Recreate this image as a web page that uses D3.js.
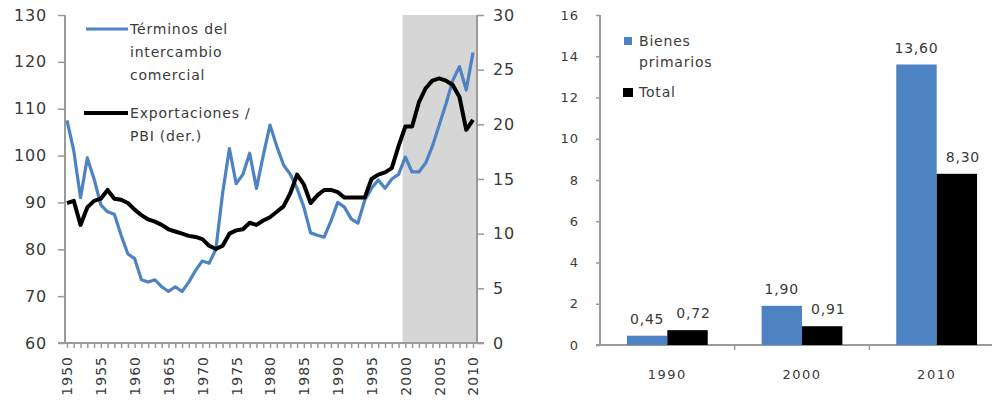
<!DOCTYPE html>
<html>
<head>
<meta charset="utf-8">
<script src="https://cdn.jsdelivr.net/npm/d3@7"></script>
<style>
  body { margin: 0; background: #fff; }
  svg text { font-family: "DejaVu Sans", sans-serif; fill: #3a3a3a; }
</style>
</head>
<body>
<svg id="chart" width="996" height="405"></svg>
<script>
// left panel: annual series 1950-2010
var years = d3.range(1950, 2011);
var terminos = [107.5, 101, 91, 99.5, 95, 89.5, 88, 87.5, 83, 79,
  78, 73.5, 73, 73.5, 72, 71, 72, 71, 73, 75.5,
  77.5, 77, 80, 92, 101.5, 94, 96, 100.5, 93, 100,
  106.5, 102, 98, 96, 93, 89, 83.5, 83, 82.6, 86,
  90, 89, 86.5, 85.6, 90.5, 93, 94.8, 93, 95, 96,
  99.7, 96.5, 96.5, 98.4, 102, 106.5, 111, 116, 119, 114,
  122];
var exportPbi = [12.8, 13, 10.8, 12.4, 13, 13.2, 14, 13.2, 13.1, 12.8,
  12.2, 11.7, 11.3, 11.1, 10.8, 10.4, 10.2, 10, 9.8, 9.7,
  9.5, 8.9, 8.6, 8.9, 10, 10.3, 10.4, 11, 10.8, 11.2,
  11.5, 12, 12.5, 13.7, 15.4, 14.5, 12.8, 13.5, 14, 14,
  13.8, 13.3, 13.3, 13.3, 13.3, 15, 15.4, 15.6, 16, 18,
  19.8, 19.8, 22, 23.3, 24, 24.2, 24, 23.6, 22.5, 19.5,
  20.4];
var leftTicks = [60, 70, 80, 90, 100, 110, 120, 130];
var rightTicks = [0, 5, 10, 15, 20, 25, 30];
var yearTicks = d3.range(1950, 2011, 5);

// right panel: bars
var barYears = ["1990", "2000", "2010"];
var bienes = [0.45, 1.90, 13.60];
var total = [0.72, 0.91, 8.30];
var barTicks = [0, 2, 4, 6, 8, 10, 12, 14, 16];

var blue = "#4d82c3";
var axisColor = "#9a9a9a";
var fmt = function(v) { return d3.format(".2f")(v).replace(".", ","); };

var svg = d3.select("#chart");

// ---------- left chart ----------
var x = d3.scaleLinear().domain([1950, 2010]).range([67, 473]);
var yL = d3.scaleLinear().domain([60, 130]).range([343, 15]);
var yR = d3.scaleLinear().domain([0, 30]).range([343, 15]);
var xLeft = 65, xRight = 477;

var left = svg.append("g");

// shaded period 2000-2010
left.append("rect")
  .attr("x", x(1999.6)).attr("y", yL(130))
  .attr("width", xRight - x(1999.6)).attr("height", yL(60) - yL(130))
  .attr("fill", "#d6d6d6");

var axL = left.append("g").attr("transform", "translate(" + xLeft + ",0)")
  .call(d3.axisLeft(yL).tickValues(leftTicks).tickSize(7).tickPadding(11));
var axR = left.append("g").attr("transform", "translate(" + xRight + ",0)")
  .call(d3.axisRight(yR).tickValues(rightTicks).tickSize(7).tickPadding(9));
var axB = left.append("g").attr("transform", "translate(0," + yL(60) + ")")
  .call(d3.axisBottom(x).tickValues(years).tickSize(5).tickFormat(""));
var axLabels = left.append("g").attr("transform", "translate(0," + yL(60) + ")")
  .call(d3.axisBottom(x).tickValues(yearTicks).tickSize(0).tickFormat(d3.format("d")));

[axL, axR, axB, axLabels].forEach(function(a) {
  a.select(".domain").remove();
  a.selectAll("line").attr("stroke", axisColor).attr("stroke-width", 1.5);
});
axL.selectAll("text").style("font-size", "16px").style("letter-spacing", "0.8px");
axR.selectAll("text").style("font-size", "16px").style("letter-spacing", "0.8px");
axLabels.selectAll("text")
  .style("font-size", "14px").style("letter-spacing", "1px")
  .attr("text-anchor", "end").attr("transform", "rotate(-90)")
  .attr("x", -13).attr("y", 0).attr("dy", "0.35em");

left.append("line").attr("x1", xLeft).attr("x2", xLeft).attr("y1", 15).attr("y2", 343)
  .attr("stroke", axisColor).attr("stroke-width", 2);
left.append("line").attr("x1", xRight).attr("x2", xRight).attr("y1", 15).attr("y2", 343)
  .attr("stroke", axisColor).attr("stroke-width", 2);
left.append("line").attr("x1", 58).attr("x2", 484).attr("y1", 343).attr("y2", 343)
  .attr("stroke", axisColor).attr("stroke-width", 2);

left.append("path").datum(terminos)
  .attr("fill", "none").attr("stroke", blue).attr("stroke-width", 3.2)
  .attr("stroke-linejoin", "round")
  .attr("d", d3.line().x(function(d, i) { return x(years[i]); }).y(function(d) { return yL(d); }));
left.append("path").datum(exportPbi)
  .attr("fill", "none").attr("stroke", "#000").attr("stroke-width", 4)
  .attr("stroke-linejoin", "round")
  .attr("d", d3.line().x(function(d, i) { return x(years[i]); }).y(function(d) { return yR(d); }));

// legend
var legL = left.append("g");
legL.append("line").attr("x1", 86).attr("x2", 128).attr("y1", 29).attr("y2", 29)
  .attr("stroke", blue).attr("stroke-width", 3);
legL.append("line").attr("x1", 84).attr("x2", 128).attr("y1", 113).attr("y2", 113)
  .attr("stroke", "#000").attr("stroke-width", 4);
var legText = [["Términos del", 34], ["intercambio", 57], ["comercial", 80],
  ["Exportaciones /", 118], ["PBI (der.)", 141]];
legL.selectAll("text").data(legText).enter().append("text")
  .attr("x", 130).attr("y", function(d) { return d[1]; })
  .style("font-size", "14px").style("letter-spacing", "0.8px")
  .text(function(d) { return d[0]; });

// ---------- right chart ----------
var xb = d3.scaleBand().domain(barYears).range([600, 1004]).paddingInner(0.4).paddingOuter(0.2);
var xs = d3.scaleBand().domain(["bienes", "total"]).range([0, xb.bandwidth()]);
var yb = d3.scaleLinear().domain([0, 16]).range([345, 15]);

var right = svg.append("g");
var axY = right.append("g").attr("transform", "translate(600,0)")
  .call(d3.axisLeft(yb).tickValues(barTicks).tickSize(4).tickPadding(17));
axY.select(".domain").remove();
axY.selectAll("line").attr("stroke", axisColor).attr("stroke-width", 1.5);
axY.selectAll("text").style("font-size", "13px").style("letter-spacing", "1px");

right.append("line").attr("x1", 600).attr("x2", 600).attr("y1", 15).attr("y2", 345)
  .attr("stroke", axisColor).attr("stroke-width", 2);
right.append("line").attr("x1", 596).attr("x2", 992).attr("y1", 345).attr("y2", 345)
  .attr("stroke", axisColor).attr("stroke-width", 2);

var axX = right.append("g").attr("transform", "translate(0,345)")
  .call(d3.axisBottom(xb).tickSize(0).tickPadding(25));
axX.select(".domain").remove();
axX.selectAll("text").style("font-size", "13px").style("letter-spacing", "1.5px");
// small separators between groups
right.selectAll(".sep").data(barYears.slice(1)).enter().append("line")
  .attr("x1", function(d) { return xb(d) - xb.step() * xb.paddingInner() / 2; })
  .attr("x2", function(d) { return xb(d) - xb.step() * xb.paddingInner() / 2; })
  .attr("y1", 345).attr("y2", 350)
  .attr("stroke", axisColor).attr("stroke-width", 1.5);

var groups = barYears.map(function(c, i) {
  return { cat: c, vals: [{ k: "bienes", v: bienes[i] }, { k: "total", v: total[i] }] };
});
var g = right.selectAll(".grp").data(groups).enter().append("g")
  .attr("transform", function(d) { return "translate(" + xb(d.cat) + ",0)"; });
g.selectAll("rect").data(function(d) { return d.vals; }).enter().append("rect")
  .attr("x", function(d) { return xs(d.k); })
  .attr("y", function(d) { return yb(d.v); })
  .attr("width", xs.bandwidth())
  .attr("height", function(d) { return yb(0) - yb(d.v); })
  .attr("fill", function(d) { return d.k === "bienes" ? blue : "#000"; });
g.selectAll("text").data(function(d) { return d.vals; }).enter().append("text")
  .attr("x", function(d) { return xs(d.k) + xs.bandwidth() / 2 + (d.k === "total" ? 6 : 0); })
  .attr("y", function(d) { return yb(d.v) - 12; })
  .attr("text-anchor", "middle")
  .style("font-size", "14px").style("letter-spacing", "0.8px")
  .text(function(d) { return fmt(d.v); });

// legend
var legR = right.append("g");
legR.append("rect").attr("x", 624).attr("y", 37).attr("width", 8).attr("height", 8).attr("fill", blue);
legR.append("rect").attr("x", 623).attr("y", 88).attr("width", 10).attr("height", 9).attr("fill", "#000");
var legRText = [["Bienes", 46], ["primarios", 67], ["Total", 97]];
legR.selectAll("text").data(legRText).enter().append("text")
  .attr("x", 639).attr("y", function(d) { return d[1]; })
  .style("font-size", "14px").style("letter-spacing", "0.8px")
  .text(function(d) { return d[0]; });
</script>
</body>
</html>
